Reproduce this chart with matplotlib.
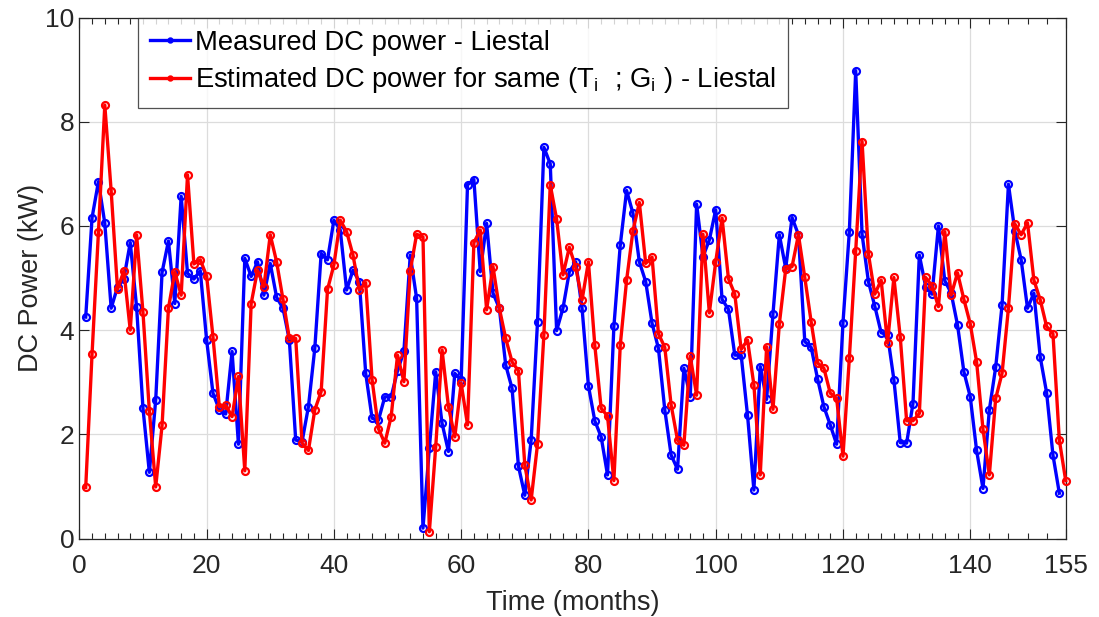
import numpy as np
import matplotlib
matplotlib.use('Agg')
from matplotlib import pyplot as plt

# monthly DC power (kW)
measured = [4.25, 6.16, 6.85, 6.05, 4.42, 4.83, 4.99, 5.68, 4.44, 2.50,
            1.27, 2.66, 5.11, 5.71, 4.51, 6.57, 5.09, 4.98, 5.14, 3.81,
            2.79, 2.47, 2.39, 3.59, 1.81, 5.38, 5.03, 5.31, 4.67, 5.28,
            4.63, 4.42, 3.81, 1.89, 1.86, 2.53, 3.65, 5.47, 5.35, 6.11,
            5.92, 4.77, 5.15, 4.93, 3.17, 2.31, 2.27, 2.72, 2.72, 3.22,
            3.59, 5.44, 4.61, 0.20, 1.73, 3.20, 2.21, 1.67, 3.17, 3.04,
            6.79, 6.89, 5.12, 6.05, 4.71, 4.42, 3.33, 2.88, 1.39, 0.83,
            1.89, 4.16, 7.51, 7.19, 3.99, 4.42, 5.12, 5.31, 4.42, 2.93,
            2.26, 1.95, 1.22, 4.07, 5.63, 6.68, 6.24, 5.31, 4.93, 4.13,
            3.65, 2.47, 1.60, 1.33, 3.27, 2.72, 6.42, 5.41, 5.73, 6.31,
            4.59, 4.40, 3.52, 3.52, 2.37, 0.93, 3.30, 2.67, 4.31, 5.83,
            5.19, 6.16, 5.83, 3.78, 3.67, 3.07, 2.53, 2.18, 1.81, 4.14,
            5.89, 8.98, 5.84, 4.93, 4.46, 3.95, 3.91, 3.05, 1.84, 1.83,
            2.59, 5.44, 4.83, 4.69, 6.00, 4.95, 4.71, 4.10, 3.20, 2.72,
            1.69, 0.96, 2.47, 3.29, 4.48, 6.80, 5.91, 5.35, 4.42, 4.71,
            3.48, 2.80, 1.60, 0.87]

estimated = [0.98, 3.55, 5.88, 8.32, 6.67, 4.78, 5.14, 4.00, 5.83, 4.34,
             2.45, 0.99, 2.17, 4.42, 5.12, 4.67, 6.98, 5.27, 5.35, 5.04,
             3.87, 2.53, 2.56, 2.34, 3.11, 1.30, 4.51, 5.15, 4.83, 5.83,
             5.31, 4.59, 3.84, 3.84, 1.83, 1.69, 2.47, 2.82, 4.78, 5.25,
             6.11, 5.89, 5.44, 4.77, 4.91, 3.05, 2.11, 1.83, 2.34, 3.52,
             3.01, 5.14, 5.84, 5.79, 0.13, 1.76, 3.62, 2.53, 1.95, 2.98,
             2.18, 5.68, 5.92, 4.39, 5.22, 4.42, 3.84, 3.39, 3.22, 1.41,
             0.74, 1.81, 3.91, 6.79, 6.13, 5.06, 5.59, 5.21, 4.58, 5.31,
             3.71, 2.50, 2.35, 1.11, 3.71, 4.96, 5.91, 6.45, 5.28, 5.40,
             3.93, 3.67, 2.56, 1.89, 1.79, 3.50, 2.75, 5.84, 4.33, 5.31,
             6.15, 4.99, 4.69, 3.63, 3.81, 2.95, 1.22, 3.68, 2.48, 4.12,
             5.17, 5.22, 5.83, 5.01, 4.16, 3.37, 3.27, 2.79, 2.69, 1.58,
             3.46, 5.52, 7.62, 5.46, 4.69, 4.96, 3.75, 5.01, 3.87, 2.26,
             2.26, 2.40, 5.01, 4.85, 4.45, 5.89, 4.67, 5.10, 4.59, 4.12,
             3.39, 2.10, 1.22, 2.69, 3.17, 4.42, 6.04, 5.83, 6.06, 4.96,
             4.58, 4.07, 3.93, 1.89, 1.11]

xticks = [0, 20, 40, 60, 80, 100, 120, 140, 155]
yticks = [0, 2, 4, 6, 8, 10]

plt.rcParams['font.family'] = ['Liberation Sans', 'DejaVu Sans']
plt.rcParams['mathtext.fontset'] = 'custom'
plt.rcParams['mathtext.rm'] = 'Liberation Sans'
plt.rcParams['mathtext.it'] = 'Liberation Sans'

fig = plt.figure(figsize=(10.99, 6.17), dpi=100)
ax = fig.add_axes([0.0722, 0.1272, 0.8975, 0.8444])

t_meas = np.arange(1, len(measured) + 1)
t_est = np.arange(1, len(estimated) + 1)
style = dict(lw=2.4, marker='o', ms=5, mfc='none', mew=1.6, clip_on=False, zorder=3)
ax.plot(t_meas, measured, color=(0, 0, 1), label='Measured DC power - Liestal', **style)
ax.plot(t_est, estimated, color=(1, 0, 0),
        label=r'Estimated DC power for same (T$_{\mathregular{i}}$  ; G$_{\mathregular{i}}$ ) - Liestal',
        **style)

ax.set_xlim(0, 155)
ax.set_ylim(0, 10)
ax.set_xticks(xticks)
ax.set_yticks(yticks)
minor = [m for m in range(2, 140, 2) if m % 20] + [143, 146, 149, 152]
ax.set_xticks(minor, minor=True)
ax.tick_params(which='both', direction='in', top=True, right=True,
               labelsize=19, colors='#262626', width=0.8)
ax.tick_params(which='major', length=7)
ax.tick_params(which='minor', length=4)
ax.tick_params(axis='x', pad=11)
ax.grid(True, color='#dcdcdc', lw=0.9)
ax.set_axisbelow(True)
for s in ax.spines.values():
    s.set_color('#262626')
    s.set_linewidth(0.9)

ax.set_xlabel('Time (months)', fontsize=19.5, color='#262626', labelpad=9)
ax.set_ylabel('DC Power (kW)', fontsize=19.5, color='#262626', labelpad=1)

leg = ax.legend(loc='upper left', bbox_to_anchor=(0.059, 1.0), fontsize=19.7,
                frameon=True, fancybox=False, handlelength=1.45,
                handletextpad=0.2, borderpad=0.45, labelspacing=0.35,
                borderaxespad=0)
leg.set_zorder(5)
leg.get_frame().set_edgecolor('#262626')
leg.get_frame().set_linewidth(0.9)
for line in leg.get_lines():
    line.set_markersize(3)
    line.set_markerfacecolor(line.get_color())

fig.savefig('out.png', dpi=100)
